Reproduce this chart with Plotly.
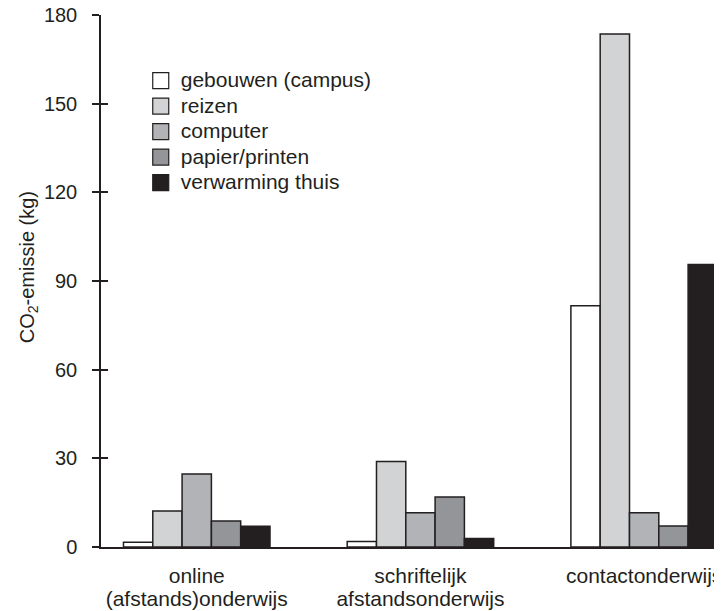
import plotly.graph_objects as go

categories = ["online<br>(afstands)onderwijs", "schriftelijk<br>afstandsonderwijs", "contactonderwijs"]
series_names = ["gebouwen (campus)", "reizen", "computer", "papier/printen", "verwarming thuis"]
gebouwen = [1.6, 1.9, 81.6]
reizen = [12.2, 28.9, 173.6]
computer = [24.7, 11.6, 11.6]
papier = [8.8, 16.9, 7.1]
verwarming = [7.0, 2.9, 95.6]
y_ticks = [0, 30, 60, 90, 120, 150, 180]

values = [gebouwen, reizen, computer, papier, verwarming]
colors = ["#ffffff", "#d1d3d4", "#b1b3b6", "#939598", "#231f20"]
ink = "#231f20"
FONT = "Liberation Sans, Arial, sans-serif"


def big(s, px=21):
    return "<br>".join('<span style="font-size:%dpx">%s</span>' % (px, part) for part in s.split("<br>"))


fig = go.Figure()
for name, vals, col in zip(series_names, values, colors):
    fig.add_trace(go.Bar(x=categories, y=vals, name=name, showlegend=False,
                         marker=dict(color=col, line=dict(color=ink, width=1.5))))
for name, col in zip(series_names, colors):
    fig.add_trace(go.Scatter(x=[None], y=[None], mode="markers", yaxis="y2",
                             name=big(name),
                             marker=dict(symbol="square", size=16, color=col,
                                         line=dict(color=ink, width=1.2))))

fig.update_layout(
    width=714, height=603,
    margin=dict(l=93, r=0, t=7, b=64, autoexpand=False),
    paper_bgcolor="white", plot_bgcolor="white",
    barmode="group", bargap=0.345, bargroupgap=0,
    font=dict(family=FONT, size=20, color=ink),
    showlegend=True,
    legend=dict(x=0.064, y=0.91, xanchor="left", yanchor="top",
                bgcolor="rgba(0,0,0,0)", font=dict(size=17.3, color=ink),
                itemsizing="trace"),
    xaxis=dict(type="category", range=[-0.428, 2.348], showline=True, linecolor=ink,
               linewidth=1.5, ticks="", showgrid=False, zeroline=False,
               tickmode="array", tickvals=categories, ticktext=[big(c) for c in categories],
               ticklabelstandoff=13, tickfont=dict(size=17.5, color=ink)),
    yaxis=dict(range=[0, 180], tickvals=y_ticks, showline=True, linecolor=ink, linewidth=1.5,
               ticks="outside", ticklen=7, tickwidth=1.5, tickcolor=ink, showgrid=False,
               zeroline=False, ticklabelstandoff=11, ticklabeloverflow="allow",
               tickfont=dict(size=20, color=ink),
               title=dict(text="&nbsp;&nbsp;&nbsp;&nbsp;&nbsp;CO<sub>2</sub>-emissie (kg)",
                          font=dict(size=20, color=ink), standoff=4)),
    yaxis2=dict(range=[0, 180], tickvals=y_ticks, overlaying="y", anchor="x", side="left",
                ticks="inside", ticklen=7, tickwidth=1.5, tickcolor=ink, showticklabels=False,
                showline=False, showgrid=False, zeroline=False),
)

fig.write_html("out.html")
